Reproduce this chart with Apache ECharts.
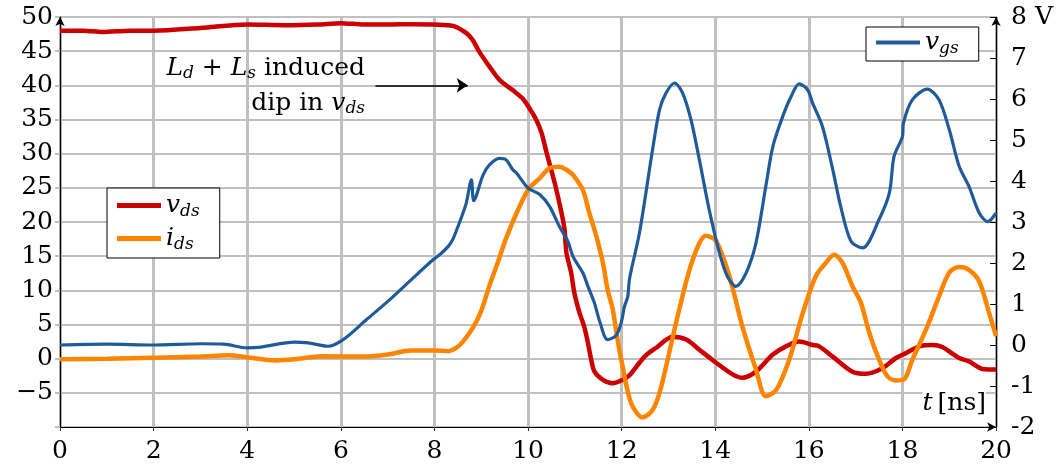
<!DOCTYPE html>
<html>
<head>
<meta charset="utf-8">
<script src="https://cdn.jsdelivr.net/npm/echarts@6/dist/echarts.min.js"></script>
<style>
  html, body { margin: 0; padding: 0; background: #fff; }
  #chart { width: 1056px; height: 468px; }
</style>
</head>
<body>
<div id="chart"></div>
<script>
// Switching transient: drain-source voltage, drain current (left axis) and gate voltage (right axis)
const xTicks = [0, 2, 4, 6, 8, 10, 12, 14, 16, 18, 20];
const leftTicks = [-5, 0, 5, 10, 15, 20, 25, 30, 35, 40, 45, 50];
const rightTicks = [-2, -1, 0, 1, 2, 3, 4, 5, 6, 7, 8];

// v_ds [V] over t [ns]
const tVds = [0, 0.5, 0.9, 1.5, 2, 3, 4, 4.8, 5.5, 6, 6.5, 7, 7.5, 8, 8.4, 8.69, 8.82, 8.96, 9.18, 9.39,
  9.67, 9.88, 10.07, 10.18, 10.29, 10.39, 10.57, 10.71, 10.78, 10.82, 10.92, 10.99, 11.1, 11.2, 11.28,
  11.35, 11.42, 11.6, 11.81, 12.02, 12.17, 12.38, 12.52, 12.74, 13.09, 13.38, 13.66, 14.02, 14.37, 14.58,
  14.87, 15.23, 15.51, 15.79, 16.08, 16.22, 16.51, 16.93, 17.22, 17.57, 17.86, 18.07, 18.36, 18.64, 18.85,
  19.21, 19.42, 19.71, 20];
const vds = [48.0, 48.0, 47.8, 48.0, 48.0, 48.4, 48.9, 48.8, 48.9, 49.1, 48.9, 48.9, 48.95, 48.9, 48.7, 47.6,
  46.6, 44.9, 42.7, 40.8, 39.3, 38.1, 36.2, 34.9, 33.0, 30.3, 25.7, 21.5, 18.9, 15.5, 12.6, 9.6, 6.7, 4.7,
  2.3, -0.15, -1.9, -3.1, -3.6, -3.1, -2.4, -0.6, 0.5, 1.6, 3.2, 2.8, 1.3, -0.6, -2.3, -2.8, -1.9, 0.6, 1.8,
  2.5, 2.0, 1.8, 0.3, -1.9, -2.2, -1.4, 0.1, 0.8, 1.8, 2.0, 1.7, 0.1, -0.4, -1.5, -1.6];

// i_ds [A] over t [ns]
const tIds = [0, 1, 2, 3, 3.6, 4.0, 4.6, 5.0, 5.6, 6.5, 7.0, 7.5, 8.0, 8.3, 8.47, 8.61, 8.82, 9.0, 9.18,
  9.35, 9.53, 9.82, 10.03, 10.25, 10.46, 10.67, 10.85, 10.96, 11.17, 11.31, 11.46, 11.6, 11.7, 11.81, 11.88,
  11.95, 12.02, 12.09, 12.2, 12.33, 12.45, 12.66, 12.81, 12.95, 13.23, 13.52, 13.8, 14.02, 14.3, 14.58,
  14.87, 15.08, 15.3, 15.58, 15.87, 16.15, 16.36, 16.54, 16.72, 16.93, 17.11, 17.29, 17.5, 17.68, 17.86,
  18.04, 18.21, 18.5, 18.78, 19.0, 19.21, 19.42, 19.64, 19.85, 20];
const ids = [-0.1, 0.0, 0.15, 0.3, 0.5, 0.2, -0.25, -0.1, 0.35, 0.3, 0.6, 1.2, 1.2, 1.1, 1.6, 2.5, 4.5, 7.0,
  10.8, 14.0, 17.6, 22.3, 25.0, 26.4, 27.9, 28.1, 27.5, 26.9, 24.7, 21.3, 17.9, 14.0, 10.1, 7.2, 4.2, 1.3,
  -1.1, -3.6, -6.5, -8.0, -8.6, -7.5, -5.0, -1.1, 7.2, 14.5, 18.0, 17.2, 12.1, 4.7, -1.6, -5.5, -4.6, -0.15,
  6.7, 12.1, 14.0, 15.2, 14.0, 10.6, 8.2, 3.8, -0.15, -2.6, -3.2, -3.0, -0.15, 4.2, 9.1, 12.6, 13.4, 13.0,
  11.3, 6.7, 3.3];

// v_gs [V] over t [ns]
const tVgs = [0, 1, 2, 3, 3.5, 4.0, 4.3, 5.0, 5.3, 5.73, 6.05, 6.55, 7.04, 7.54, 7.97, 8.11, 8.29, 8.39,
  8.54, 8.61, 8.68, 8.79, 8.84, 9.04, 9.18, 9.39, 9.53, 9.67, 9.75, 10.0, 10.25, 10.46, 10.67, 10.85, 10.96,
  11.17, 11.28, 11.42, 11.53, 11.7, 11.88, 11.99, 12.06, 12.13, 12.17, 12.38, 12.66, 12.81, 12.95, 13.13,
  13.3, 13.48, 13.66, 13.87, 14.09, 14.26, 14.44, 14.66, 14.87, 15.08, 15.23, 15.44, 15.62, 15.79, 15.97,
  16.08, 16.29, 16.51, 16.68, 16.9, 17.15, 17.5, 17.72, 17.82, 18.0, 18.02, 18.21, 18.53, 18.78, 19.0,
  19.21, 19.42, 19.64, 19.82, 20];
const vgs = [0.0, 0.02, 0.0, 0.03, 0.02, -0.07, -0.05, 0.07, 0.05, -0.03, 0.13, 0.62, 1.1, 1.63, 2.08, 2.2,
  2.4, 2.57, 3.0, 3.22, 3.46, 4.03, 3.52, 4.15, 4.4, 4.55, 4.52, 4.28, 4.2, 3.83, 3.67, 3.38, 2.89, 2.53,
  2.16, 1.76, 1.43, 1.02, 0.58, 0.13, 0.23, 0.54, 0.94, 1.18, 1.63, 2.73, 4.76, 5.74, 6.15, 6.39, 6.15, 5.5,
  4.52, 3.3, 2.24, 1.67, 1.43, 1.76, 2.49, 3.87, 4.84, 5.57, 6.06, 6.37, 6.23, 5.9, 5.33, 4.28, 3.38, 2.53,
  2.37, 3.06, 3.71, 4.6, 5.09, 5.41, 5.98, 6.24, 5.98, 5.25, 4.36, 3.87, 3.22, 3.01, 3.22];

const pairs = (xs, ys) => xs.map((x, i) => [x, ys[i]]);

const SERIF = "'DejaVu Serif', 'Liberation Serif', serif";
const GRID = '#c0c0c0';
const RED = '#cc0000';
const ORANGE = '#ff8400';
const BLUE = '#1f5b99';
const FS = 25;

const mathRich = {
  i: { fontFamily: SERIF, fontStyle: 'italic', fontSize: FS, color: '#000' },
  s: { fontFamily: SERIF, fontStyle: 'italic', fontSize: 17, color: '#000', padding: [12, 0, 0, 0] },
  n: { fontFamily: SERIF, fontSize: FS, color: '#000' }
};
const legendLabel = { vds: '{i|v}{s|ds}', ids: '{i|i}{s|ds}', vgs: '{i|v}{s|gs}' };

const chart = echarts.init(document.getElementById('chart'), null, { renderer: 'canvas' });

const axisLineStyle = { color: '#000', width: 1.2 };

chart.setOption({
  animation: false,
  backgroundColor: '#fff',
  textStyle: { fontFamily: SERIF },
  grid: { left: 60, right: 59, top: 17, bottom: 41, containLabel: false },
  xAxis: {
    type: 'value', min: xTicks[0], max: xTicks[xTicks.length - 1], interval: 2,
    axisLine: { show: true, onZero: false, lineStyle: axisLineStyle, symbol: ['none', 'arrow'], symbolSize: [7, 9] },
    axisTick: { show: true, length: 4, lineStyle: { color: '#333', width: 1 } },
    axisLabel: { fontFamily: SERIF, fontSize: FS, color: '#000', margin: 12 },
    splitLine: { show: true, lineStyle: { color: GRID, width: 3 } }
  },
  yAxis: [
    {
      type: 'value', position: 'left', min: -10, max: leftTicks[leftTicks.length - 1], interval: 5,
      axisLine: { show: true, onZero: false, lineStyle: axisLineStyle, symbol: ['none', 'arrow'], symbolSize: [7, 9] },
      axisTick: { show: true, length: 5, lineStyle: { color: GRID, width: 2 } },
      axisLabel: {
        fontFamily: SERIF, fontSize: FS, color: '#000', margin: 7,
        formatter: v => (leftTicks.indexOf(v) < 0 ? '' : (v < 0 ? '\u2212' + (-v) : String(v)))
      },
      splitLine: { show: true, lineStyle: { color: GRID, width: 2 } }
    },
    {
      type: 'value', position: 'right', min: rightTicks[0], max: rightTicks[rightTicks.length - 1], interval: 1,
      axisLine: { show: true, onZero: false, lineStyle: axisLineStyle, symbol: ['none', 'arrow'], symbolSize: [7, 9] },
      axisTick: { show: true, inside: true, length: 6, lineStyle: { color: '#000', width: 1 } },
      axisLabel: {
        fontFamily: SERIF, fontSize: FS, color: '#000', margin: 15, showMaxLabel: true,
        formatter: v => (v === 8 ? '8 V' : String(v))
      },
      splitLine: { show: false }
    }
  ],
  legend: [
    {
      data: ['vds', 'ids'], orient: 'vertical', left: 107, top: 188,
      backgroundColor: '#fff', borderColor: '#000', borderWidth: 1, borderRadius: 0,
      padding: [5, 20, 5, 10], itemGap: 6, itemWidth: 44, itemHeight: 5, icon: 'rect',
      formatter: n => legendLabel[n], textStyle: { rich: mathRich }
    },
    {
      data: ['vgs'], orient: 'vertical', left: 866, top: 27,
      backgroundColor: '#fff', borderColor: '#000', borderWidth: 1, borderRadius: 0,
      padding: [3, 20, 4, 10], itemWidth: 44, itemHeight: 4, icon: 'rect',
      formatter: n => legendLabel[n], textStyle: { rich: mathRich }
    }
  ],
  graphic: [
    {
      type: 'text', x: 365, y: 68, z: 10,
      style: {
        text: '{i|L}{s|d}{n| + }{i|L}{s|s}{n| induced}', rich: mathRich,
        align: 'right', verticalAlign: 'middle'
      }
    },
    {
      type: 'text', x: 365, y: 103, z: 10,
      style: {
        text: '{n|dip in }{i|v}{s|ds}', rich: mathRich,
        align: 'right', verticalAlign: 'middle'
      }
    },
    {
      type: 'text', x: 986, y: 403, z: 10,
      style: {
        text: '{i|t}{n|\u2009[ns]}', rich: mathRich,
        align: 'right', verticalAlign: 'middle', backgroundColor: '#fff'
      }
    }
  ],
  series: [
    {
      name: 'vds', type: 'line', yAxisIndex: 0, data: pairs(tVds, vds),
      symbol: 'none', smooth: 0.3, color: RED, lineStyle: { color: RED, width: 4.5 }, z: 2,
      markLine: {
        silent: true, symbol: ['none', 'arrow'], symbolSize: 11,
        label: { show: false },
        lineStyle: { color: '#000', width: 1.6, type: 'solid' },
        data: [[{ coord: [6.74, 40] }, { coord: [8.71, 40] }]]
      }
    },
    {
      name: 'ids', type: 'line', yAxisIndex: 0, data: pairs(tIds, ids),
      symbol: 'none', smooth: 0.3, color: ORANGE, lineStyle: { color: ORANGE, width: 4.5 }, z: 3
    },
    {
      name: 'vgs', type: 'line', yAxisIndex: 1, data: pairs(tVgs, vgs),
      symbol: 'none', smooth: 0.3, color: BLUE, lineStyle: { color: BLUE, width: 3.2 }, z: 4
    }
  ]
});
</script>
</body>
</html>
